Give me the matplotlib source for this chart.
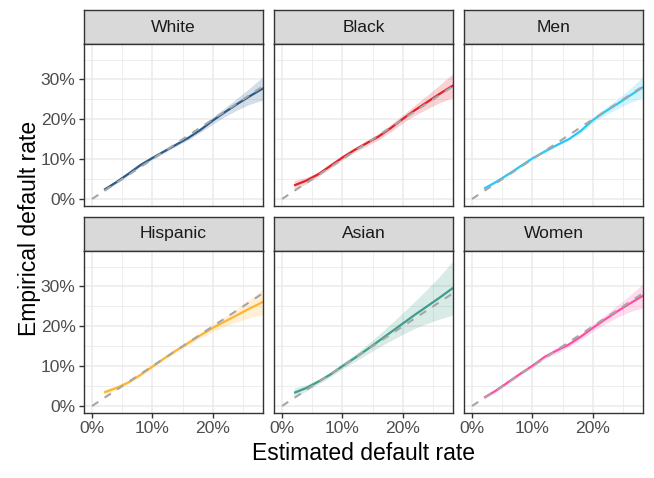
import matplotlib
matplotlib.use("Agg")
import matplotlib.pyplot as plt
from matplotlib.ticker import FixedLocator, FuncFormatter

plt.rcParams['font.family'] = ['Liberation Sans', 'DejaVu Sans']

groups = ["White", "Black", "Men", "Hispanic", "Asian", "Women"]
colors = ["#2A5B8C", "#E3202B", "#2CC8F5", "#FFB52E", "#3F9D8B", "#FF4FA5"]

x_est = [2, 4, 6, 8, 10, 12, 14, 16, 18, 20, 22, 24, 26, 28, 28.5]

y_emp = {
    "White":    [2.3, 4.2, 6.3, 8.5, 10.3, 12.0, 13.7, 15.4, 17.4, 19.7, 21.8, 23.8, 25.7, 27.5, 27.9],
    "Black":    [3.4, 4.6, 6.2, 8.3, 10.4, 12.3, 14.0, 15.7, 17.8, 20.1, 22.3, 24.3, 26.3, 28.2, 28.6],
    "Men":      [2.6, 4.3, 6.2, 8.2, 10.2, 11.9, 13.5, 15.0, 17.1, 19.8, 21.9, 23.8, 25.8, 27.8, 28.2],
    "Hispanic": [3.4, 4.5, 5.9, 7.8, 9.9, 12.0, 14.0, 15.9, 17.8, 19.6, 21.2, 22.8, 24.4, 25.9, 26.3],
    "Asian":    [3.3, 4.5, 6.1, 7.9, 10.0, 12.0, 14.1, 16.3, 18.5, 20.7, 22.9, 25.0, 27.1, 29.3, 29.8],
    "Women":    [2.1, 3.9, 6.0, 8.1, 10.1, 12.3, 13.9, 15.4, 17.4, 19.6, 21.7, 23.7, 25.6, 27.4, 27.8],
}
half_width = {
    "White":    [0.4, 0.4, 0.4, 0.4, 0.4, 0.4, 0.4, 0.5, 0.6, 0.9, 1.1, 1.5, 2.0, 2.8, 3.0],
    "Black":    [1.2, 0.8, 0.6, 0.6, 0.6, 0.6, 0.7, 0.8, 0.9, 1.0, 1.3, 1.7, 2.2, 2.9, 3.1],
    "Men":      [0.3, 0.3, 0.3, 0.3, 0.3, 0.3, 0.3, 0.3, 0.5, 0.6, 0.9, 1.2, 1.7, 2.5, 2.7],
    "Hispanic": [0.8, 0.5, 0.4, 0.4, 0.4, 0.4, 0.5, 0.6, 0.7, 0.9, 1.2, 1.7, 2.3, 3.1, 3.3],
    "Asian":    [1.2, 0.8, 0.6, 0.6, 0.7, 0.9, 1.2, 1.6, 2.1, 2.7, 3.4, 4.3, 5.3, 6.6, 7.0],
    "Women":    [0.4, 0.4, 0.4, 0.4, 0.4, 0.5, 0.7, 0.6, 0.7, 0.9, 1.1, 1.5, 2.0, 2.9, 3.1],
}

diag = [0, 40]
x_major = [0, 10, 20]
x_minor = [-5, 5, 15, 25]
y_major = [0, 10, 20, 30]
y_minor = [5, 15, 25, 35]

W, H = 654, 478
fig = plt.figure(figsize=(W / 100, H / 100), dpi=100)

col_left = [84, 274, 464]
pw = 179
row_strip_top = [10, 217]
sh = 34
ph = 162

def box(x, y, w, h):
    return [x / W, 1 - (y + h) / H, w / W, h / H]

pct = FuncFormatter(lambda v, p: f"{int(round(v))}%")

for i, g in enumerate(groups):
    r, c = divmod(i, 3)
    x0 = col_left[c]
    st = row_strip_top[r]
    # strip
    sax = fig.add_axes(box(x0, st, pw, sh))
    sax.set_facecolor("#D9D9D9")
    sax.set_xticks([]); sax.set_yticks([])
    for s in sax.spines.values():
        s.set_color("#333333"); s.set_linewidth(1.0)
    sax.text(0.5, 0.5, g, ha="center", va="center", fontsize=12.6,
             color="#1A1A1A", transform=sax.transAxes)
    # panel
    ax = fig.add_axes(box(x0, st + sh, pw, ph))
    ax.set_xlim(-1.33, 28.3)
    ax.set_ylim(-1.76, 38.9)
    for v in x_minor:
        ax.axvline(v, color="#EBEBEB", lw=0.6, zorder=0)
    for v in x_major:
        ax.axvline(v, color="#EBEBEB", lw=1.1, zorder=0)
    for v in y_minor:
        ax.axhline(v, color="#EBEBEB", lw=0.6, zorder=0)
    for v in y_major:
        ax.axhline(v, color="#EBEBEB", lw=1.1, zorder=0)
    lo = [y - h for y, h in zip(y_emp[g], half_width[g])]
    hi = [y + h for y, h in zip(y_emp[g], half_width[g])]
    ax.fill_between(x_est, lo, hi, color=colors[i], alpha=0.2, lw=0, zorder=2)
    ax.plot(x_est, y_emp[g], color=colors[i], lw=1.6, zorder=3,
            solid_capstyle="butt", solid_joinstyle="round")
    ax.plot(diag, diag, color="#A6A6A6", lw=1.5, dashes=(3.6, 3.6), zorder=4)
    ax.xaxis.set_major_locator(FixedLocator(x_major))
    ax.yaxis.set_major_locator(FixedLocator(y_major))
    ax.xaxis.set_major_formatter(pct)
    ax.yaxis.set_major_formatter(pct)
    ax.tick_params(length=3.6, width=1.0, color="#333333", labelcolor="#4D4D4D",
                   labelsize=12.6, pad=2.5)
    if c != 0:
        ax.tick_params(axis="y", left=False, labelleft=False)
    if r != 1:
        ax.tick_params(axis="x", bottom=False, labelbottom=False)
    for s in ax.spines.values():
        s.set_color("#333333"); s.set_linewidth(1.0); s.set_zorder(5)

fig.text(363.5 / W, 1 - 453 / H, "Estimated default rate", ha="center", va="center",
         fontsize=16.5, color="black")
fig.text(30 / W, 1 - 228 / H, "Empirical default rate", ha="center", va="center",
         fontsize=16.5, color="black", rotation=90)

fig.savefig("out.png", dpi=100)
